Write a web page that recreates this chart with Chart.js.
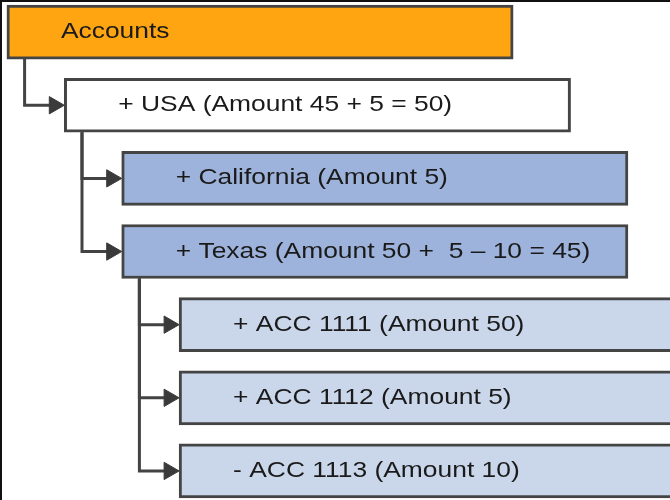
<!DOCTYPE html>
<html><head><meta charset="utf-8">
<script src="https://cdn.jsdelivr.net/npm/chart.js@4/dist/chart.umd.min.js"></script>
<style>
html,body{margin:0;padding:0;background:#fff;}
#wrap{position:relative;width:670px;height:500px;overflow:hidden;}
#frame{position:absolute;left:0;top:0;width:670px;height:500px;border-top:2px solid #111;border-left:2px solid #111;box-sizing:border-box;pointer-events:none;}
canvas{display:block;}
</style></head><body>
<div id="wrap"><canvas id="c" width="670" height="500"></canvas><div id="frame"></div></div>
<script>
// ---- data ----
const nodeLabels = [
  'Accounts',
  '+ USA (Amount 45 + 5 = 50)',
  '+ California (Amount 5)',
  '+ Texas (Amount 50 +  5 \u2013 10 = 45)',
  '+ ACC 1111 (Amount 50)',
  '+ ACC 1112 (Amount 5)',
  '- ACC 1113 (Amount 10)'
];
const nodeDepths  = [0, 1, 2, 2, 3, 3, 3];
const nodeParents = [-1, 0, 1, 1, 3, 3, 3];

// ---- layout / style ----
const W = 670, H = 500;
const PX_PER_DEPTH = 57.4, LEFT0 = 6.9;
const PX_PER_ROW = 73.14, TOP0 = 32.1;
const xMin = -LEFT0 / PX_PER_DEPTH, xMax = xMin + W / PX_PER_DEPTH;
const yMin = -TOP0 / PX_PER_ROW, yMax = yMin + H / PX_PER_ROW;
const BOX_W = 8.82;            // in depth units
const BOX_H_PX = 54;
const TRUNK_OFF = 17.7 / PX_PER_DEPTH;
const TEXT_OFF = 54 / PX_PER_DEPTH;
const ARROW_R = 10;
const ARROW_OFF = ARROW_R / PX_PER_DEPTH;
const HALF_BOX_ROWS = (BOX_H_PX / 2) / PX_PER_ROW;
const depthFills = ['#FFA512', '#FFFFFF', '#9DB3DB', '#CAD7EB'];
const lineColor = '#434343';

const boxDataset = {
  type: 'bar',
  indexAxis: 'y',
  data: nodeLabels.map((_, i) => ({ y: i, x: [nodeDepths[i], nodeDepths[i] + BOX_W] })),
  backgroundColor: nodeDepths.map(d => depthFills[d]),
  borderColor: '#444444',
  borderWidth: 3,
  borderSkipped: false,
  barThickness: BOX_H_PX,
  order: 0
};

const connectorDatasets = [];
nodeParents.forEach((p, i) => {
  if (p < 0) return;
  const tx = nodeDepths[p] + TRUNK_OFF;
  connectorDatasets.push({
    type: 'scatter',
    showLine: true,
    data: [
      { x: tx, y: p + HALF_BOX_ROWS },
      { x: tx, y: i },
      { x: nodeDepths[i] - ARROW_OFF, y: i }
    ],
    borderColor: lineColor,
    borderWidth: 3,
    pointRadius: [0, 0, ARROW_R],
    pointStyle: 'triangle',
    pointRotation: 90,
    pointBackgroundColor: '#3a3a3a',
    pointBorderColor: '#3a3a3a',
    pointBorderWidth: 1,
    tension: 0,
    fill: false,
    order: 1
  });
});

const labelPlugin = {
  id: 'nodeLabels',
  afterDatasetsDraw(chart) {
    const { ctx, scales: { x, y } } = chart;
    ctx.save();
    ctx.font = '22px "Liberation Sans", Arial, sans-serif';
    ctx.fillStyle = '#1a1a1a';
    ctx.textBaseline = 'alphabetic';
    nodeLabels.forEach((t, i) => {
      const px = x.getPixelForValue(nodeDepths[i] + TEXT_OFF);
      const py = y.getPixelForValue(i) + 6;
      ctx.save();
      ctx.translate(px, py);
      ctx.scale(1.2, 1);
      ctx.fillText(t, 0, 0);
      ctx.restore();
    });
    ctx.restore();
  }
};

const axisCommon = { type: 'linear', display: false, offset: false, bounds: 'data', grace: 0, beginAtZero: false, grid: { offset: false } };

new Chart(document.getElementById('c'), {
  type: 'bar',
  data: { datasets: [boxDataset, ...connectorDatasets] },
  options: {
    responsive: false,
    animation: false,
    events: [],
    layout: { padding: 0, autoPadding: false },
    scales: {
      x: Object.assign({}, axisCommon, { min: xMin, max: xMax }),
      y: Object.assign({}, axisCommon, { min: yMin, max: yMax, reverse: true })
    },
    plugins: { legend: { display: false }, tooltip: { enabled: false } }
  },
  plugins: [labelPlugin]
});
</script>
</body></html>
